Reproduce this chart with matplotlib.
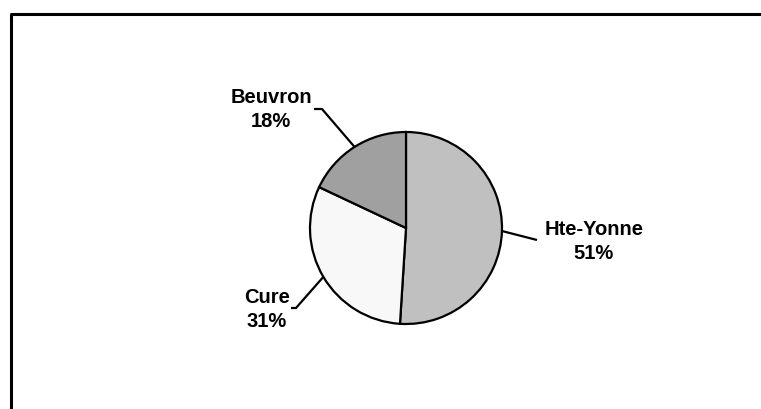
import numpy as np
import matplotlib
matplotlib.use("Agg")
import matplotlib.pyplot as plt

# données du graphique
labels = ["Hte-Yonne", "Cure", "Beuvron"]
parts = [51, 31, 18]
colors = ["#c0c0c0", "#f8f8f8", "#a0a0a0"]

W, H = 761, 410
fig = plt.figure(figsize=(W / 100, H / 100), dpi=100)
ax = fig.add_axes([0, 0, 1, 1])

# camembert (coordonnées en pixels, y vers le haut)
cx, cy, r = 406, H - 229, 96
wedges, _ = ax.pie(parts, colors=colors, startangle=90, counterclock=False,
                   center=(cx, cy), radius=r,
                   wedgeprops=dict(edgecolor="black", linewidth=1.6))

ax.set_xlim(0, W)
ax.set_ylim(0, H)
ax.set_aspect("equal")
ax.axis("off")

# position des étiquettes (centre x, ligne de base de la 2e ligne) et coudes
text_pos = [(594, 259), (267, 327), (271, 127)]
elbows = [[(537, 241)], [(296, 309), (291, 309)], [(322, 110), (314, 110)]]

for w, lab, p, (tx, ty), elb in zip(wedges, labels, parts, text_pos, elbows):
    ang = np.deg2rad((w.theta1 + w.theta2) / 2)
    x0 = cx + r * np.cos(ang)
    y0 = cy + r * np.sin(ang)
    xs = [x0] + [e[0] for e in elb]
    ys = [y0] + [H - e[1] for e in elb]
    ax.plot(xs, ys, color="black", linewidth=1.6, solid_capstyle="butt")
    ax.text(tx, H - ty, f"{lab}\n{p}%", ha="center", va="baseline",
            fontsize=14.5, fontweight="bold", family="Liberation Sans",
            linespacing=1.36)

# cadre (ouvert en bas et à droite, coupé par l'image)
ax.plot([10.5, 10.5, W + 5], [-5, H - 14.5, H - 14.5], color="black",
        linewidth=2.2, clip_on=False)

fig.savefig("out.png", dpi=100)
